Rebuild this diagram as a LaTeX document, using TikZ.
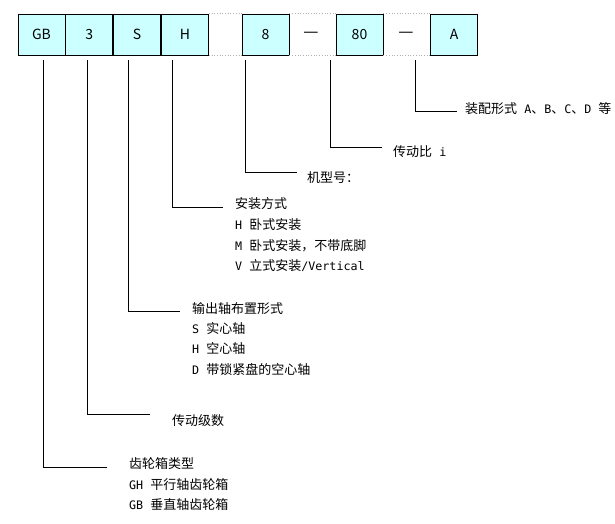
\documentclass[tikz,border=0pt]{standalone}
\usepackage{fontspec}
\setmainfont{Noto Sans CJK SC}
\newfontfamily\halfwfont{DejaVu Sans Mono}[Scale=0.9]
\newcommand{\hw}[1]{{\halfwfont #1}}
\usetikzlibrary{positioning}
\definecolor{boxcyan}{RGB}{204,255,255}

\begin{document}
\begin{tikzpicture}[x=1pt,y=-1pt,font=\fontsize{13}{15}\selectfont,
  code/.style={draw=black,fill=boxcyan,minimum width=47pt,minimum height=41pt,
    inner sep=0pt,line width=0.8pt,font=\fontsize{14}{16}\selectfont},
  gap/.style={draw=gray!60,dotted,line width=0.7pt},
  lead/.style={line width=0.9pt},
  lbl/.style={anchor=west,inner sep=0pt,text height=0.8em,text depth=0.2em},
  linkdash/.style={inner sep=0pt,font=\fontsize{17}{17}\selectfont},
]

%% canvas
\useasboundingbox (0,0) rectangle (615,523);

%% ---- code boxes ----
\node[code] (gb) at (41.5,34.5) {GB};
\node[code,right=0pt of gb] (st) {3};
\node[code,right=0pt of st] (sh) {S};
\node[code,right=0pt of sh] (mt) {H};
\node[code] (sz) at (265.5,34.5) {8};
\node[code] (ra) at (359.5,34.5) {80};
\node[code] (as) at (454,34.5) {A};

\node[linkdash] (d1) at (311,35) {—};
\node[linkdash] (d2) at (406,35) {—};

%% dotted frame between separated boxes
\draw[gap] (mt.north east)--(sz.north west) (sz.north east)--(ra.north west)
  (ra.north east)--(as.north west);
\draw[gap] (mt.south east)--(sz.south west) (sz.south east)--(ra.south west)
  (ra.south east)--(as.south west);

%% ================================================================
%%  leader start and end points
%% ================================================================
\coordinate (sGB) at (43,60);   \coordinate (eGB) at (107,467);
\coordinate (sST) at (87,60);   \coordinate (eST) at (150,414);
\coordinate (sSH) at (128,60);  \coordinate (eSH) at (180,311);
\coordinate (sMT) at (172,60);  \coordinate (eMT) at (223,207);
\coordinate (sSZ) at (245,60);  \coordinate (eSZ) at (297,172);
\coordinate (sRA) at (330,60);  \coordinate (eRA) at (382,147);
\coordinate (sAS) at (415,60);  \coordinate (eAS) at (457,111);

\draw[lead] (sGB) |- (eGB);
\draw[lead] (sST) |- (eST);
\draw[lead] (sSH) |- (eSH);
\draw[lead] (sMT) |- (eMT);
\draw[lead] (sSZ) |- (eSZ);
\draw[lead] (sRA) |- (eRA);
\draw[lead] (sAS) |- (eAS);

%% ================================================================
%%  labels
%% ================================================================
\node[lbl] (lAS) at (465,110) {装配形式\hw{ A}、\hw{B}、\hw{C}、\hw{D }等};
\node[lbl] (lRA) at (393,153) {传动比\hw{ i}};
\node[lbl] (lSZ) at (307,179) {机型号：};

\node[lbl] (lMT) at (235,205) {安装方式};
\node[lbl] (lMT1) at (235,226) {\hw{H }卧式安装};
\node[lbl] (lMT2) at (235,247) {\hw{M }卧式安装，不带底脚};
\node[lbl] (lMT3) at (235,267) {\hw{V }立式安装\hw{/Vertical}};

\node[lbl] (lSH) at (192,310) {输出轴布置形式};
\node[lbl] (lSH1) at (192,330) {\hw{S }实心轴};
\node[lbl] (lSH2) at (192,350) {\hw{H }空心轴};
\node[lbl] (lSH3) at (192,371) {\hw{D }带锁紧盘的空心轴};

\node[lbl] (lST) at (172,422) {传动级数};

\node[lbl] (lGB) at (129,465) {齿轮箱类型};
\node[lbl] (lGB1) at (129,486) {\hw{GH }平行轴齿轮箱};
\node[lbl] (lGB2) at (129,506) {\hw{GB }垂直轴齿轮箱};

\end{tikzpicture}
\end{document}
